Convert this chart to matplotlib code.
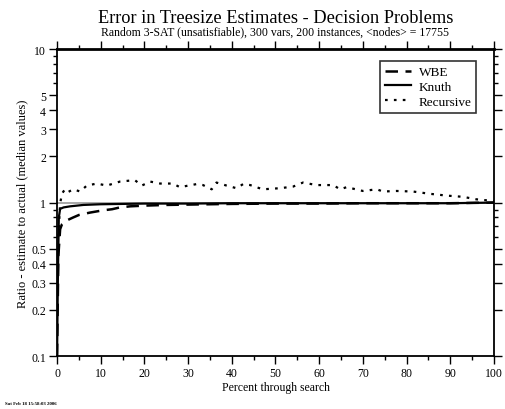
import matplotlib
matplotlib.use('Agg')
import matplotlib.pyplot as plt
from matplotlib.ticker import FixedLocator, NullFormatter, MultipleLocator

plt.rcParams['font.family'] = ['Liberation Serif', 'DejaVu Serif']

# percent through search vs. ratio estimate/actual (median)
knuth_x = [0, 0.2, 0.4, 0.7, 1.5, 3, 6, 10, 20, 30, 40, 50, 60, 70, 80, 90, 95, 100]
knuth_y = [0.1, 0.35, 0.8, 0.91, 0.93, 0.945, 0.965, 0.975, 0.985, 0.985, 0.99,
           0.99, 0.99, 0.99, 0.99, 0.99, 0.995, 1.0]

wbe_x = [0, 0.3, 0.7, 1.1, 2, 3.7, 5, 7.5, 10.5, 12.6, 14.4, 16.7, 20, 25, 30,
         35, 40, 50, 60, 70, 80, 90, 95, 100]
wbe_y = [0.1, 0.45, 0.67, 0.72, 0.76, 0.80, 0.83, 0.86, 0.89, 0.905, 0.93, 0.945,
         0.955, 0.965, 0.97, 0.975, 0.98, 0.985, 0.985, 0.99, 0.99, 0.99, 0.995, 1.0]

rec_x = [0.3, 0.7, 1.1, 1.8, 2.5, 3.7, 5.3, 6.8, 9.1, 11.4, 14.4, 17.8, 19.4, 21.3,
         23.6, 26.5, 28.1, 32, 33.4, 35.4, 36.5, 38.8, 41.1, 42.6, 44.2, 47.1, 51,
         54, 56.3, 59.4, 63.2, 64.8, 66.3, 70, 73.2, 74.6, 77.7, 81.5, 85.4, 89.2,
         92.9, 96, 99, 100]
rec_y = [0.6, 0.98, 1.14, 1.22, 1.17, 1.22, 1.18, 1.29, 1.33, 1.29, 1.37, 1.40,
         1.29, 1.37, 1.33, 1.33, 1.26, 1.32, 1.30, 1.22, 1.35, 1.29, 1.24, 1.32,
         1.30, 1.22, 1.24, 1.27, 1.35, 1.30, 1.30, 1.22, 1.26, 1.19, 1.22, 1.18,
         1.19, 1.18, 1.14, 1.11, 1.09, 1.05, 1.03, 1.02]

ytick_vals = [0.1, 0.2, 0.3, 0.4, 0.5, 1, 2, 3, 4, 5, 10]
ytick_labels = ['0.1', '0.2', '0.3', '0.4', '0.5', '1', '2', '3', '4', '5', '10']

fig = plt.figure(figsize=(5.05, 4.10), dpi=100)
ax = fig.add_axes([0.113, 0.129, 0.865, 0.749])

ax.axhline(1.0, color='#999999', lw=1.2, zorder=1)
ax.plot(wbe_x, wbe_y, color='black', lw=1.8, ls=(0, (5, 3)), label='WBE', zorder=3)
ax.plot(knuth_x, knuth_y, color='black', lw=1.6, ls='-', label='Knuth', zorder=3)
ax.plot(rec_x, rec_y, color='black', lw=1.6, ls=(0, (1.2, 2.8)), label='Recursive', zorder=3)

ax.set_yscale('log')
ax.set_ylim(0.1, 10)
ax.set_xlim(0, 100)
ax.yaxis.set_major_locator(FixedLocator(ytick_vals))
ax.set_yticklabels(ytick_labels)
ax.yaxis.set_minor_locator(FixedLocator([0.6, 0.7, 0.8, 0.9, 6, 7, 8, 9]))
ax.yaxis.set_minor_formatter(NullFormatter())
ax.xaxis.set_major_locator(MultipleLocator(10))
ax.xaxis.set_minor_locator(MultipleLocator(5))

ax.tick_params(which='both', direction='out', top=True, right=True, labelsize=8.5,
               width=1.0, pad=2)
ax.tick_params(which='major', length=6)
ax.tick_params(which='minor', length=3)
for s in ax.spines.values():
    s.set_linewidth(1.3)
ax.spines['top'].set_linewidth(2.0)

ax.set_xlabel('Percent through search', fontsize=8.5, labelpad=1)
ax.set_ylabel('Ratio - estimate to actual (median values)', fontsize=9, labelpad=2)

fig.text(0.545, 0.955, 'Error in Treesize Estimates - Decision Problems',
         ha='center', va='center', fontsize=13.2)
fig.text(0.545, 0.921, 'Random 3-SAT (unsatisfiable), 300 vars, 200 instances, <nodes> = 17755',
         ha='center', va='center', fontsize=8.5)
fig.text(0.01, 0.012, 'Sat Feb 18 15:58:03 2006', fontsize=3.5, fontweight='bold')

leg = ax.legend(loc='upper right', bbox_to_anchor=(0.96, 0.96), fontsize=9.5,
                frameon=True, fancybox=False, handlelength=2.0, borderpad=0.35,
                labelspacing=0.2, handletextpad=0.6, borderaxespad=0)
leg.get_frame().set_edgecolor('black')
leg.get_frame().set_linewidth(1.2)

fig.savefig('out.png', dpi=100)
